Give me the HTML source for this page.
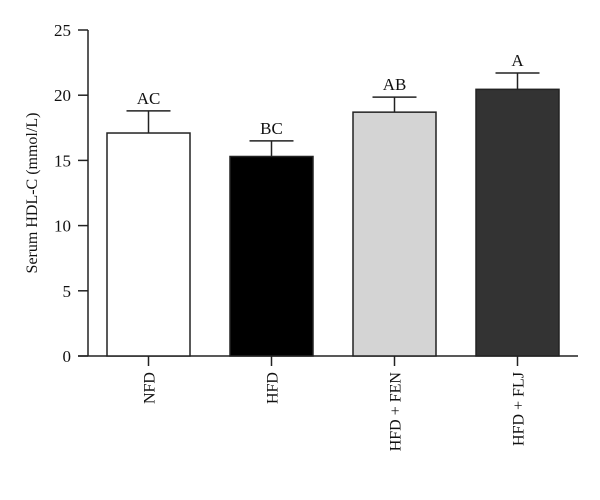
<!DOCTYPE html>
<html><head><meta charset="utf-8"><style>
body{margin:0;background:#fff}
svg text{font-family:"Liberation Serif",serif;fill:#111}
</style></head><body>
<svg id="chart" width="600" height="495" xmlns="http://www.w3.org/2000/svg"></svg>
<script>
const categories=["NFD","HFD","HFD + FEN","HFD + FLJ"];
const values=[17.1,15.3,18.7,20.45];
const errors=[1.7,1.2,1.15,1.25];
const letters=["AC","BC","AB","A"];
const yTicks=[0,5,10,15,20,25];
const fills=["#ffffff","#000000","#d4d4d4","#333333"];
const NS="http://www.w3.org/2000/svg";
const svg=document.getElementById('chart');
const y0=356,y1=30,vmax=25;
const yS=v=>y0-(v/vmax)*(y0-y1);
const firstC=148.5,step=123,bw=83;
const xS=i=>firstC+i*step;
function mk(tag,attrs,parent){const e=document.createElementNS(NS,tag);for(const k in attrs)e.setAttribute(k,attrs[k]);(parent||svg).appendChild(e);return e;}
// axes
let ax=mk('line',{x1:88,y1:y1,x2:88,y2:y0,stroke:'#222','stroke-width':1.5});


let xa=mk('line',{x1:78,y1:y0,x2:578,y2:y0,stroke:'#222','stroke-width':1.5});


yTicks.forEach(t=>{
  const y=yS(t);
  let l=mk('line',{x1:78,y1:y,x2:88,y2:y,stroke:'#222','stroke-width':1.5});
  
  
  let tx=mk('text',{x:71,y:y+6,'text-anchor':'end','font-size':17});
  tx.textContent=t;
  
  
});
let yt=mk('text',{x:0,y:0,'text-anchor':'middle','font-size':16,transform:'translate(37,193) rotate(-90)'});
yt.textContent='Serum HDL-C (mmol/L)';


categories.forEach((c,i)=>{
  const cx=xS(i),top=yS(values[i]),et=yS(values[i]+errors[i]);
  let eb=mk('line',{x1:cx,y1:et,x2:cx,y2:top,stroke:'#222','stroke-width':1.5});
  
  
  let cap=mk('line',{x1:cx-22,y1:et,x2:cx+22,y2:et,stroke:'#222','stroke-width':1.5});
  
  
  let r=mk('rect',{x:cx-bw/2,y:top,width:bw,height:y0-top,fill:fills[i],stroke:'#222','stroke-width':1.5});
  
  
  let lt=mk('text',{x:cx,y:et-7,'text-anchor':'middle','font-size':17});
  lt.textContent=letters[i];
  
  
  let tk=mk('line',{x1:cx,y1:y0,x2:cx,y2:366,stroke:'#222','stroke-width':1.5});
  
  
  let xl=mk('text',{x:0,y:0,'text-anchor':'end','font-size':16,transform:`translate(${cx+6},372) rotate(-90)`});
  xl.textContent=c;
  
  
});
</script>
</body></html>
